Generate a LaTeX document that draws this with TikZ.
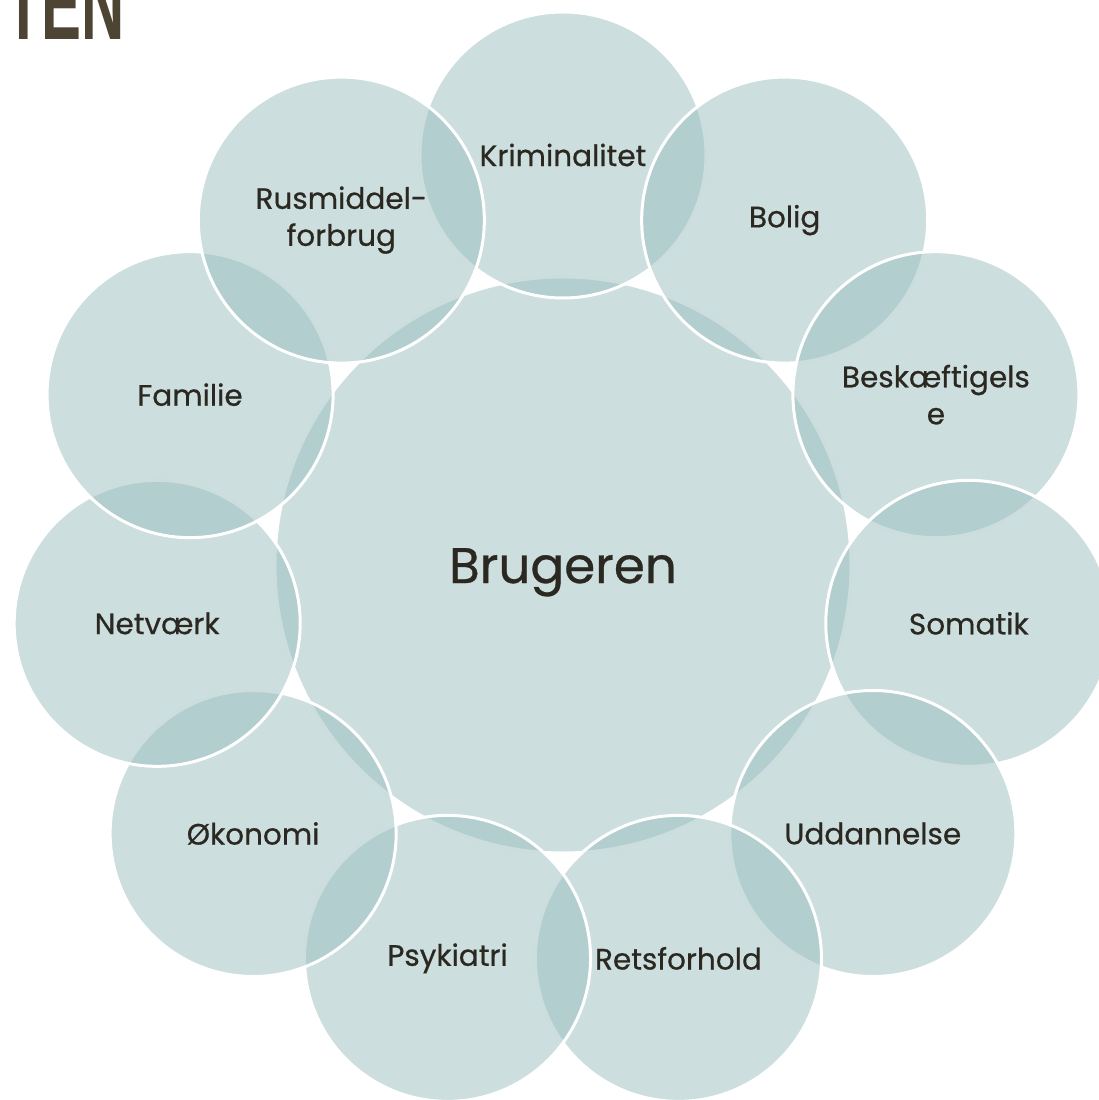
\documentclass[tikz,border=0pt]{standalone}
\usepackage{fontspec}
\setmainfont{Poppins}[FakeBold=0.6]
\newfontfamily\titlefont{Liberation Sans}

\definecolor{ringfill}{RGB}{157,191,191}
\definecolor{labeltext}{RGB}{42,40,32}
\definecolor{titletext}{RGB}{78,68,52}

\begin{document}
\begin{tikzpicture}[x=1pt,y=1pt,
    ring/.style = {circle,
        draw=white, line width=3pt,
        fill=ringfill, fill opacity=0.52, text opacity=1,
        minimum size=286pt, inner sep=0pt,
        align=center, text=labeltext,
        font=\fontsize{29.5}{37}\selectfont}]

\useasboundingbox (-563,-535) rectangle (536,565);
\clip (-563,-535) rectangle (536,565);

% Title (cut off)
\node[anchor=base west, inner sep=0pt, text=titletext,
    font=\titlefont\bfseries\fontsize{105}{105}\selectfont] (title) at (-558,525)
    {\scalebox{0.57}[1]{TEN}};

% Centre
\node[ring, minimum size=576pt,
    font=\fontsize{50}{60}\selectfont] (user) at (0,0)
    {\raisebox{-18pt}[0pt][0pt]{Brugeren}};

% Outer circles
\node[ring] (krim) at (90:410) {Kriminalitet};
\node[ring] (bolig) at (57.27:410) {Bolig};
\node[ring] (besk) at (24.55:410) {Beskæftigels\\e};
\node[ring] (soma) at (-8.18:410) {Somatik};
\node[ring] (udd) at (-40.91:410) {Uddannelse};
\node[ring] (rets) at (-73.64:410) {Retsforhold};
\node[ring] (psyk) at (-106.36:410) {Psykiatri};
\node[ring] (oek) at (-139.09:410) {Økonomi};
\node[ring] (netv) at (-171.82:410) {Netværk};
\node[ring] (fam) at (155.45:410) {Familie};
\node[ring] (rus) at (122.73:410) {Rusmiddel-\\forbrug};

\end{tikzpicture}
\end{document}
